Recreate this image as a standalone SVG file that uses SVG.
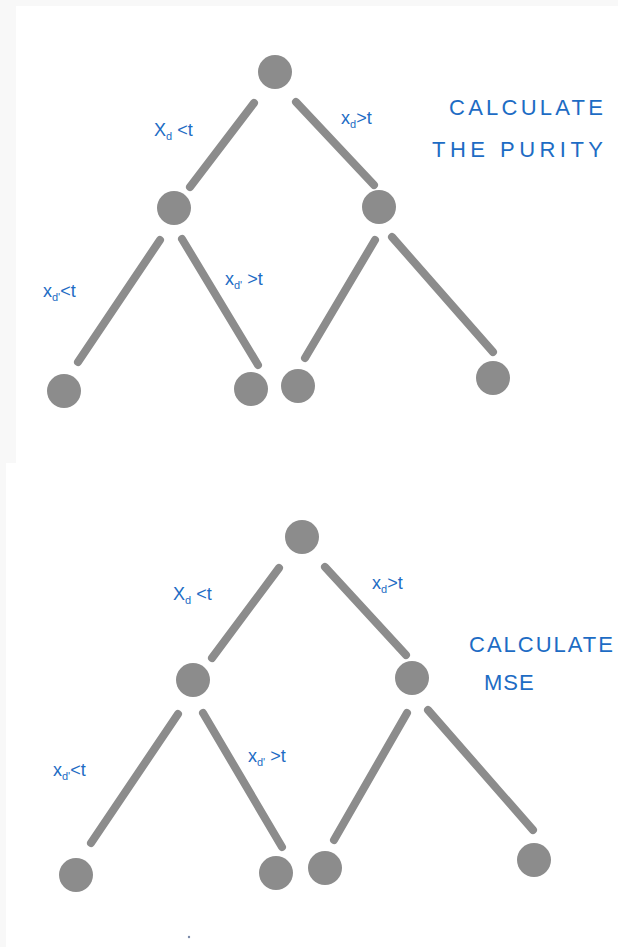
<svg xmlns="http://www.w3.org/2000/svg" width="618" height="947" viewBox="0 0 618 947">
<style>
.node{fill:#8c8c8c}
.edge{stroke:#8c8c8c;stroke-width:8;stroke-linecap:round;fill:none}
.lbl{font-family:"Liberation Sans",Arial,sans-serif;font-size:18px;fill:#1d6cc4}
.sub{font-size:11px}
.note{font-family:"Liberation Sans",Arial,sans-serif;font-size:22px;fill:#1d6cc4}
</style>
<rect x="0" y="0" width="618" height="947" fill="#f8f8f8"/>
<rect x="16" y="6" width="602" height="457" fill="#ffffff"/>
<rect x="6" y="463" width="612" height="484" fill="#ffffff"/>

<!-- Top tree: connectors -->
<g id="connectors-top">
<line class="edge" x1="254" y1="103" x2="190" y2="187"/>
<line class="edge" x1="296" y1="102" x2="374" y2="185"/>
<line class="edge" x1="160" y1="240" x2="78" y2="362"/>
<line class="edge" x1="182" y1="239" x2="258" y2="365"/>
<line class="edge" x1="375" y1="240" x2="305" y2="358"/>
<line class="edge" x1="392" y1="237" x2="493" y2="352"/>
</g>
<g id="t-root"><circle class="node" cx="275" cy="72" r="17"/></g>
<g id="t-left"><circle class="node" cx="174" cy="208" r="17"/></g>
<g id="t-right"><circle class="node" cx="379" cy="207" r="17"/></g>
<g id="t-leaf1"><circle class="node" cx="64" cy="391" r="17"/></g>
<g id="t-leaf2"><circle class="node" cx="251" cy="389" r="17"/></g>
<g id="t-leaf3"><circle class="node" cx="298" cy="386" r="17"/></g>
<g id="t-leaf4"><circle class="node" cx="493" cy="378" r="17"/></g>
<g id="t-labels">
<text class="lbl" x="154" y="136">X<tspan class="sub" dy="4">d</tspan><tspan dy="-4"> &lt;t</tspan></text>
<text class="lbl" x="341" y="124">x<tspan class="sub" dy="4">d</tspan><tspan dy="-4">&gt;t</tspan></text>
<text class="lbl" x="43" y="297">x<tspan class="sub" dy="4">d'</tspan><tspan dy="-4">&lt;t</tspan></text>
<text class="lbl" x="225" y="285">x<tspan class="sub" dy="4">d'</tspan><tspan dy="-4"> &gt;t</tspan></text>
<text class="note" x="449" y="115" textLength="154" lengthAdjust="spacing">CALCULATE</text>
<text class="note" x="432" y="157" textLength="171" lengthAdjust="spacing">THE PURITY</text>
</g>

<!-- Bottom tree: connectors -->
<g id="connectors-bottom">
<line class="edge" x1="279" y1="568" x2="212" y2="658"/>
<line class="edge" x1="325" y1="567" x2="406" y2="655"/>
<line class="edge" x1="178" y1="714" x2="91" y2="843"/>
<line class="edge" x1="203" y1="713" x2="282" y2="847"/>
<line class="edge" x1="407" y1="713" x2="334" y2="840"/>
<line class="edge" x1="428" y1="710" x2="533" y2="830"/>
</g>
<g id="b-root"><circle class="node" cx="302" cy="537" r="17"/></g>
<g id="b-left"><circle class="node" cx="193" cy="680" r="17"/></g>
<g id="b-right"><circle class="node" cx="412" cy="678" r="17"/></g>
<g id="b-leaf1"><circle class="node" cx="76" cy="875" r="17"/></g>
<g id="b-leaf2"><circle class="node" cx="276" cy="873" r="17"/></g>
<g id="b-leaf3"><circle class="node" cx="325" cy="868" r="17"/></g>
<g id="b-leaf4"><circle class="node" cx="534" cy="860" r="17"/></g>
<g id="b-labels">
<text class="lbl" x="173" y="600">X<tspan class="sub" dy="4">d</tspan><tspan dy="-4"> &lt;t</tspan></text>
<text class="lbl" x="372" y="589">x<tspan class="sub" dy="4">d</tspan><tspan dy="-4">&gt;t</tspan></text>
<text class="lbl" x="53" y="776">x<tspan class="sub" dy="4">d'</tspan><tspan dy="-4">&lt;t</tspan></text>
<text class="lbl" x="248" y="762">x<tspan class="sub" dy="4">d'</tspan><tspan dy="-4"> &gt;t</tspan></text>
<text class="note" x="469" y="652" textLength="144" lengthAdjust="spacing">CALCULATE</text>
<text class="note" x="484" y="690" letter-spacing="1">MSE</text>
</g>
<circle cx="189" cy="937" r="1.2" fill="#7a8aa8"/>
</svg>
